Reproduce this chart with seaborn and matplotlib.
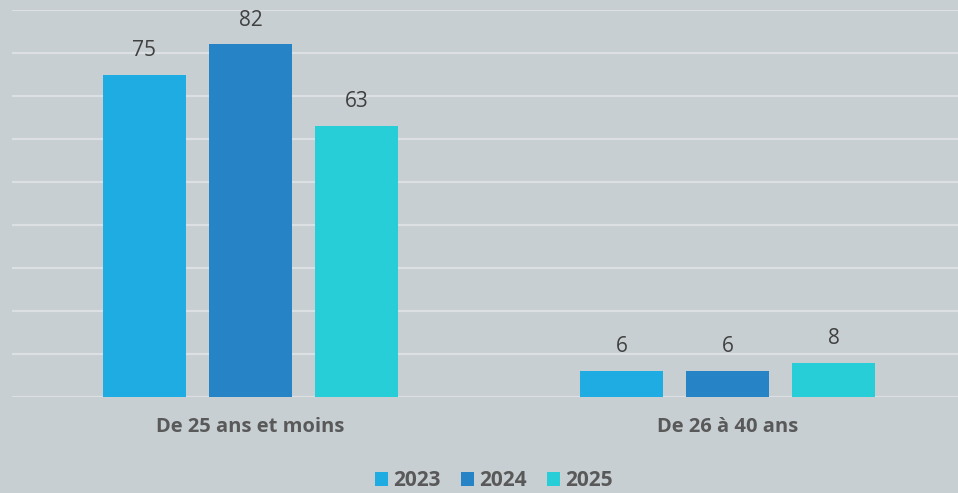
import pandas as pd
import seaborn as sns
import matplotlib.pyplot as plt
from matplotlib.patches import Patch

# données
categories = ["De 25 ans et moins", "De 26 à 40 ans"]
years = ["2023", "2024", "2025"]
values_2023 = [75, 6]
values_2024 = [82, 6]
values_2025 = [63, 8]

PALETTE = ["#1eace3", "#2583c6", "#27cdd7"]
BG = "#c7cfd2"

df = pd.DataFrame({
    "Tranche": categories * 3,
    "Annee": [y for y in years for _ in categories],
    "Valeur": values_2023 + values_2024 + values_2025,
})

sns.set_style("white")
plt.rcParams["font.family"] = ["Open Sans", "DejaVu Sans"]

fig = plt.figure(figsize=(9.58, 4.93), dpi=100, facecolor=BG)
ax = fig.add_axes([12 / 958, 96 / 493, 954 / 958, 387 / 493])
ax.set_facecolor(BG)

sns.barplot(data=df, x="Tranche", y="Valeur", hue="Annee", hue_order=years,
            palette=PALETTE, width=0.667, gap=0.217, saturation=1,
            edgecolor="none", linewidth=0,
            legend=False, ax=ax, zorder=3)

ax.set_ylim(0, 90)
ax.set_yticks(range(0, 91, 10))
ax.yaxis.grid(True, color="#dde0e2", linewidth=1.6, zorder=0)
ax.set_axisbelow(True)
ax.tick_params(axis="y", left=False, labelleft=False)
ax.tick_params(axis="x", bottom=False, pad=11)
for lbl in ax.get_xticklabels():
    lbl.set_fontweight("bold")
    lbl.set_fontsize(14.5)
    lbl.set_color("#595959")
ax.set_xlabel("")
ax.set_ylabel("")
for s in ax.spines.values():
    s.set_visible(False)

for cont in ax.containers:
    ax.bar_label(cont, padding=10, fontsize=15, color="#404040")

handles = [Patch(facecolor=c, edgecolor="none") for c in PALETTE]
leg = fig.legend(handles, years, loc="center", bbox_to_anchor=(494 / 958, 1 - 481 / 493),
                 ncol=3, frameon=False, handlelength=0.65, handleheight=0.65,
                 handletextpad=0.25, columnspacing=0.95,
                 prop={"weight": "bold", "size": 15})
for t in leg.get_texts():
    t.set_color("#595959")

fig.savefig("out.png", dpi=100, facecolor=BG)
